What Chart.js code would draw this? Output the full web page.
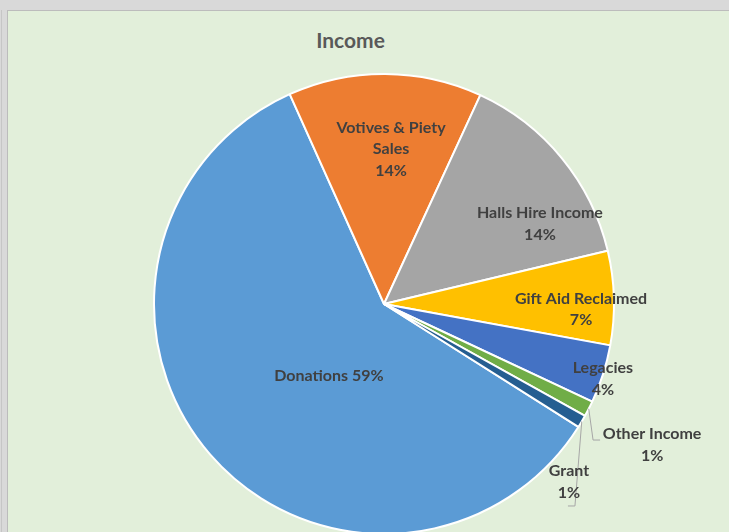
<!DOCTYPE html>
<html><head><meta charset="utf-8">
<script src="https://cdn.jsdelivr.net/npm/chart.js@4.4.0/dist/chart.umd.min.js"></script>
<style>
html,body{margin:0;padding:0;width:729px;height:532px;overflow:hidden;background:#d9d9d9;}
#vline{position:absolute;left:1px;top:10px;width:1px;height:522px;background:#c6c6c6;}
#frame{position:absolute;left:7px;top:10px;width:722px;height:522px;border-top:1px solid #bcbcbc;border-left:1px solid #bcbcbc;background:#e2efda;}
#title{position:absolute;left:0;top:29px;width:701px;text-align:center;font:bold 21px/21px Lato,"Open Sans",sans-serif;color:#595959;}
#wrap{position:absolute;left:0;top:0;width:729px;height:532px;}
</style></head><body>
<div id="vline"></div><div id="frame"></div>
<div id="title">Income</div>
<div id="wrap"><canvas id="c"></canvas></div>
<script>
// ---- data ----
const categories = ['Donations', 'Votives & Piety Sales', 'Halls Hire Income', 'Gift Aid Reclaimed', 'Legacies', 'Other Income', 'Grant'];
const values = [59.3, 13.6, 14.4, 6.6, 4.1, 1.1, 0.9];
const labelNameLines = [['Donations'], ['Votives & Piety', 'Sales'], ['Halls Hire Income'], ['Gift Aid Reclaimed'], ['Legacies'], ['Other Income'], ['Grant']];
const percentInline = [true, false, false, false, false, false, false];

// ---- styles / layout ----
const colors = ['#5b9bd5', '#ed7d31', '#a5a5a5', '#ffc000', '#4472c4', '#70ad47', '#255e91'];
// label anchor: angle (deg clockwise from 12 o'clock), distance as fraction of radius
const labelPolar = [[217.4, 0.394], [2.6, 0.675], [62.85, 0.762], [91.5, 0.857], [108.9, 1.006], [117.75, 1.317], [133.9, 1.116]];
// leader lines: points relative to label anchor (null = none)
const leaders = [null, null, null, null, null, [[-59, -5], [-52, -5]], [[6, 24], [-1, 24]]];

const total = values.reduce((a, b) => a + b, 0);
const firstShare = values[0] / total * 360;
const rotationDeg = -24.2 - firstShare;

const labelPlugin = {
  id: 'sliceLabels',
  afterDatasetsDraw(chart) {
    const ctx = chart.ctx;
    const meta = chart.getDatasetMeta(0);
    const arc0 = meta.data[0];
    const cx = arc0.x, cy = arc0.y, R = arc0.outerRadius;
    ctx.save();
    meta.data.forEach((arc, i) => {
      const [angDeg, frac] = labelPolar[i];
      const a = angDeg * Math.PI / 180;
      const lx = cx + frac * R * Math.sin(a);
      const ly = cy - frac * R * Math.cos(a);
      if (leaders[i]) {
        const mid = (arc.startAngle + arc.endAngle) / 2;
        ctx.beginPath();
        ctx.strokeStyle = '#a6a6a6';
        ctx.lineWidth = 1;
        ctx.moveTo(cx + R * Math.cos(mid), cy + R * Math.sin(mid));
        leaders[i].forEach(p => ctx.lineTo(lx + p[0], ly + p[1]));
        ctx.stroke();
      }
      const pct = Math.round(values[i] / total * 100) + '%';
      const lines = labelNameLines[i].slice();
      if (percentInline[i]) lines[lines.length - 1] += ' ' + pct; else lines.push(pct);
      ctx.font = 'bold 16px Lato, "Open Sans", sans-serif';
      ctx.fillStyle = '#404040';
      ctx.textAlign = 'center';
      ctx.textBaseline = 'middle';
      const lh = 21.5;
      const y0 = ly - (lines.length - 1) * lh / 2;
      lines.forEach((t, k) => ctx.fillText(t, lx, y0 + k * lh));
    });
    ctx.restore();
  }
};

new Chart(document.getElementById('c'), {
  type: 'pie',
  data: {
    labels: categories,
    datasets: [{
      data: values,
      backgroundColor: colors,
      borderColor: '#ffffff',
      borderWidth: 2,
      clip: false
    }]
  },
  options: {
    responsive: true,
    maintainAspectRatio: false,
    animation: false,
    rotation: rotationDeg,
    radius: 230,
    layout: { padding: { left: 154, right: 115, top: 100, bottom: 24 } },
    plugins: { legend: { display: false }, tooltip: { enabled: false }, title: { display: false } }
  },
  plugins: [labelPlugin]
});
</script>
</body></html>
